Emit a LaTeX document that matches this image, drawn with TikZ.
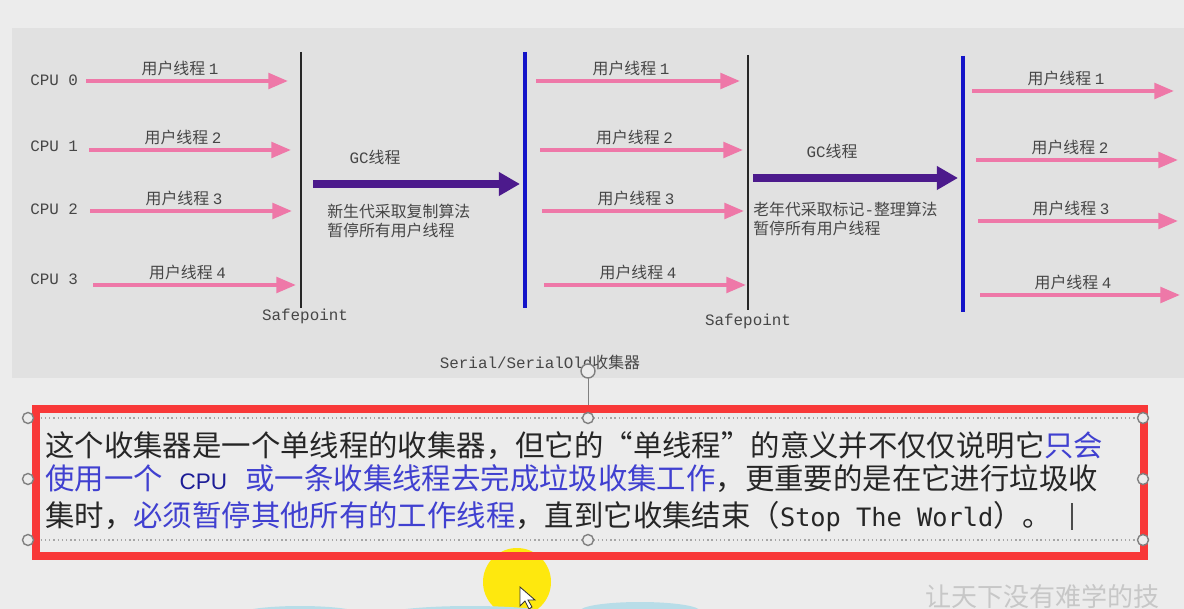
\documentclass[tikz,border=0pt]{standalone}
\usepackage{fontspec}
\setmainfont{Liberation Serif}
\newfontfamily\cjk{Noto Sans CJK SC}
\newfontfamily\codefont{Liberation Mono}
\newfontfamily\worldfont{DejaVu Sans Mono}
\newfontfamily\cpufont{Liberation Sans}
\usetikzlibrary{arrows.meta,positioning}

\definecolor{pagegray}{RGB}{236,236,236}
\definecolor{panelgray}{RGB}{225,225,225}
\definecolor{threadpink}{RGB}{238,120,168}
\definecolor{gcpurple}{RGB}{76,26,140}
\definecolor{safeblue}{RGB}{20,20,200}
\definecolor{labelgray}{RGB}{70,70,70}
\definecolor{framered}{RGB}{248,56,56}
\definecolor{noteblue}{RGB}{64,64,208}
\definecolor{cpublue}{RGB}{28,28,150}
\definecolor{cloudblue}{RGB}{184,221,232}

\begin{document}
\begin{tikzpicture}[x=0.025cm,y=-0.025cm,
    cpulabel/.style={font=\codefont\fontsize{11.3}{13}\selectfont,text=labelgray,inner sep=0pt},
    threadlabel/.style={font=\cjk\fontsize{11.3}{13}\selectfont,text=labelgray,inner sep=2pt},
    gcnote/.style={font=\cjk\fontsize{11.3}{13.5}\selectfont,text=labelgray,align=left,inner sep=0pt},
    userarrow/.style={draw=threadpink,line width=2.8pt,-{Triangle[length=14pt,width=11pt]}},
    gcarrow/.style={draw=gcpurple,line width=5.5pt,-{Triangle[length=15pt,width=16pt]}},
    safeline/.style={draw=black!85,line width=2pt},
    resumeline/.style={draw=safeblue,line width=2.2pt},
    notetext/.style={font=\cjk\fontsize{20.9}{24}\selectfont,text=black!85,inner sep=0pt,anchor=base west},
    handle/.style={draw=gray,fill=pagegray,line width=1pt}]
  \useasboundingbox (0,0) rectangle (1184,609);
  \fill[pagegray] (0,0) rectangle (1184,609);
  \fill[panelgray] (12,28) rectangle (1184,378);

  % safepoints and resume lines
  \coordinate (sp1t) at (301,52);  \coordinate (sp1b) at (301,308);
  \coordinate (rs1t) at (525,52);  \coordinate (rs1b) at (525,308);
  \coordinate (sp2t) at (748,55);  \coordinate (sp2b) at (748,310);
  \coordinate (rs2t) at (963,56);  \coordinate (rs2b) at (963,312);
  \draw[safeline] (sp1t) -- (sp1b);
  \draw[resumeline] (rs1t) -- (rs1b);
  \draw[safeline] (sp2t) -- (sp2b);
  \draw[resumeline] (rs2t) -- (rs2b);
  \node[cpulabel] (sp1) at (305,316) {Safepoint};
  \node[cpulabel] (sp2) at (748,321) {Safepoint};

  % cpus
  \node[cpulabel,anchor=west] (cpu0) at (30,80) {CPU 0};
  \node[cpulabel,anchor=west] (cpu1) at (30,146) {CPU 1};
  \node[cpulabel,anchor=west] (cpu2) at (30,209) {CPU 2};
  \node[cpulabel,anchor=west] (cpu3) at (30,279) {CPU 3};

  % user threads before the first safepoint
  \coordinate (a1) at (86,81);   \coordinate (b1) at (288,81);
  \coordinate (a2) at (89,150);  \coordinate (b2) at (291,150);
  \coordinate (a3) at (90,211);  \coordinate (b3) at (292,211);
  \coordinate (a4) at (93,285);  \coordinate (b4) at (296,285);
  \draw[userarrow] (a1) -- (b1) node[threadlabel,midway,above,xshift=-5pt] (u1) {用户线程 {\codefont 1}};
  \draw[userarrow] (a2) -- (b2) node[threadlabel,midway,above,xshift=-5pt] (u2) {用户线程 {\codefont 2}};
  \draw[userarrow] (a3) -- (b3) node[threadlabel,midway,above,xshift=-5pt] (u3) {用户线程 {\codefont 3}};
  \draw[userarrow] (a4) -- (b4) node[threadlabel,midway,above,xshift=-5pt] (u4) {用户线程 {\codefont 4}};

  % young gc
  \coordinate (g1s) at (313,184); \coordinate (g1e) at (520,184);
  \draw[gcarrow] (g1s) -- (g1e);
  \node[threadlabel] (gc1) at (375,157) {{\codefont GC}线程};
  \node[gcnote,anchor=north west] (gn1) at (327,204) {新生代采取复制算法\\暂停所有用户线程};

  % user threads between
  \coordinate (c1) at (536,81);  \coordinate (d1) at (740,81);
  \coordinate (c2) at (540,150); \coordinate (d2) at (743,150);
  \coordinate (c3) at (542,211); \coordinate (d3) at (744,211);
  \coordinate (c4) at (544,285); \coordinate (d4) at (746,285);
  \draw[userarrow] (c1) -- (d1) node[threadlabel,midway,above,xshift=-5pt] (v1) {用户线程 {\codefont 1}};
  \draw[userarrow] (c2) -- (d2) node[threadlabel,midway,above,xshift=-5pt] (v2) {用户线程 {\codefont 2}};
  \draw[userarrow] (c3) -- (d3) node[threadlabel,midway,above,xshift=-5pt] (v3) {用户线程 {\codefont 3}};
  \draw[userarrow] (c4) -- (d4) node[threadlabel,midway,above,xshift=-5pt] (v4) {用户线程 {\codefont 4}};

  % old gc
  \coordinate (g2s) at (753,178); \coordinate (g2e) at (958,178);
  \draw[gcarrow] (g2s) -- (g2e);
  \node[threadlabel] (gc2) at (832,151) {{\codefont GC}线程};
  \node[gcnote,anchor=north west] (gn2) at (753,202) {老年代采取标记{\codefont -}整理算法\\暂停所有用户线程};

  % user threads after
  \coordinate (e1) at (972,91);  \coordinate (f1) at (1174,91);
  \coordinate (e2) at (976,160); \coordinate (f2) at (1178,160);
  \coordinate (e3) at (978,221); \coordinate (f3) at (1178,221);
  \coordinate (e4) at (980,295); \coordinate (f4) at (1180,295);
  \draw[userarrow] (e1) -- (f1) node[threadlabel,midway,above,xshift=-5pt] (w1) {用户线程 {\codefont 1}};
  \draw[userarrow] (e2) -- (f2) node[threadlabel,midway,above,xshift=-5pt] (w2) {用户线程 {\codefont 2}};
  \draw[userarrow] (e3) -- (f3) node[threadlabel,midway,above,xshift=-5pt] (w3) {用户线程 {\codefont 3}};
  \draw[userarrow] (e4) -- (f4) node[threadlabel,midway,above,xshift=-5pt] (w4) {用户线程 {\codefont 4}};

  \node[threadlabel] (title) at (540,362) {{\codefont Serial/SerialOld}收集器};

  % selected text box
  \fill[yellow!90!orange!95!white] (517,582) circle (34);
  \begin{scope}
    \clip (0,0) rectangle (1184,609);
    \fill[cloudblue] (300,614) ellipse (60 and 8);
    \fill[cloudblue] (470,616) ellipse (90 and 10);
    \fill[cloudblue] (640,611) ellipse (60 and 9);
  \end{scope}
  \node[font=\cjk\fontsize{18.5}{20}\selectfont,text=black!22,anchor=west,inner sep=0pt] (slogan) at (925,597) {让天下没有难学的技};
  \draw[gray,line width=0.6pt] (588,378) -- (588,412);
  \draw[handle] (588,371) circle (7);
  \draw[gray!70,dotted,line width=1pt] (28,418) -- (1143,418);
  \draw[gray!70,dotted,line width=1pt] (28,540) -- (1143,540);
  \draw[framered,line width=5pt] (36,409) rectangle (1144,556);
  \draw[handle] (28,418) circle (5.5);
  \draw[handle] (28,479) circle (5.5);
  \draw[handle] (28,540) circle (5.5);
  \draw[handle] (588,418) circle (5.5);
  \draw[handle] (588,540) circle (5.5);
  \draw[handle] (1143,418) circle (5.5);
  \draw[handle] (1143,479) circle (5.5);
  \draw[handle] (1143,540) circle (5.5);

  \node[notetext] (line1) at (45,456) {这个收集器是一个单线程的收集器，但它的“单线程”的意义并不仅仅说明它\textcolor{noteblue}{只会}};
  \node[notetext] (line2) at (45,489) {\textcolor{noteblue}{使用一个\hspace{12pt}{\cpufont\fontsize{16}{18}\selectfont\color{cpublue}CPU}\hspace{13pt}或一条收集线程去完成垃圾收集工作}，更重要的是在它进行垃圾收};
  \node[notetext] (line3) at (45,526) {集时，\textcolor{noteblue}{必须暂停其他所有的工作线程}，直到它收集结束（{\worldfont\fontsize{18}{20}\selectfont Stop The World}）。};
  \coordinate (caret) at (1072,503);
  \draw[black!70,line width=1pt] (caret) -- ++(0,27);

  % mouse pointer
  \filldraw[fill=white,draw=black!80,line width=0.6pt] (520,587) -- (520,606) -- (525,601) -- (529,609) -- (532,607) -- (528,600) -- (535,600) -- cycle;
\end{tikzpicture}
\end{document}
